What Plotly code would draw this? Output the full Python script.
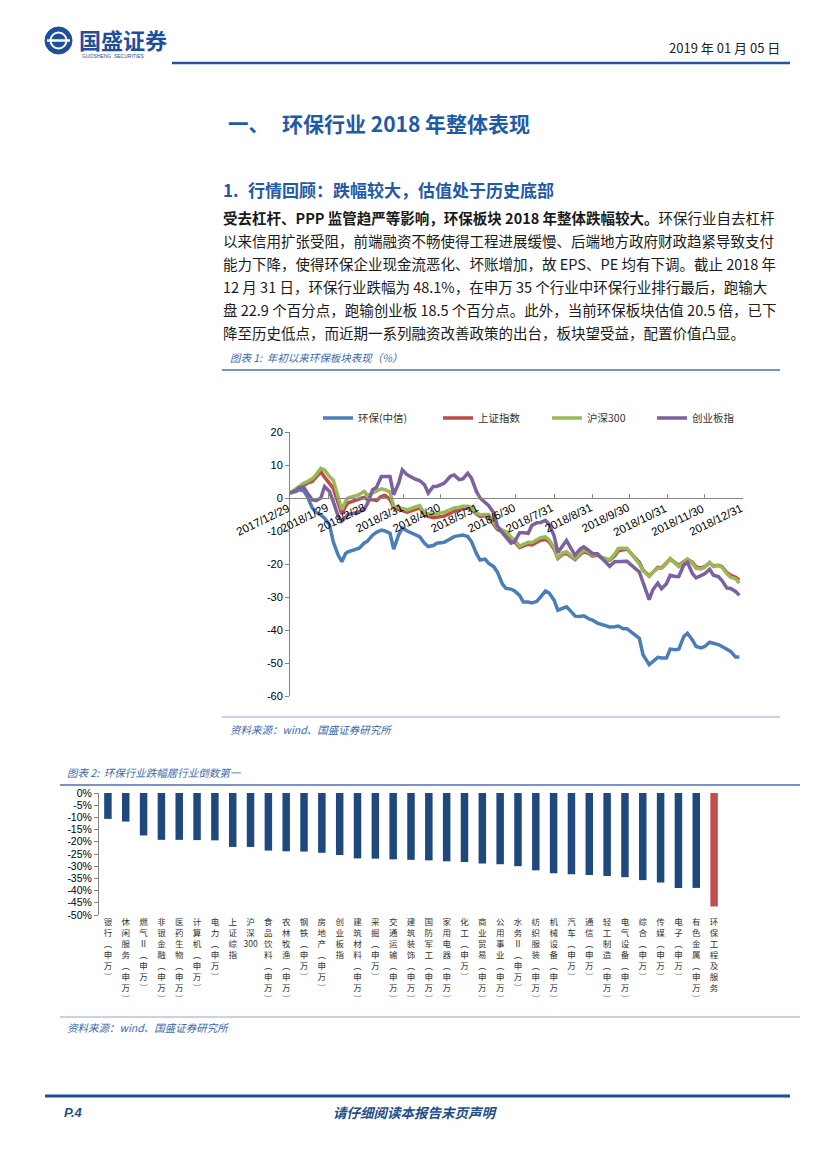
import plotly.graph_objects as go

# The page body adds an 8px margin, so the figure is sized to the remaining area and
# every page position below is converted from page pixels to figure fractions.
OFF = 8
W, H = 827 - OFF, 1169 - OFF


def fx(px):
    return (px - OFF) / W


def fy(py):
    return 1 - (py - OFF) / H


# ---------------- Chart 1 data: 年初以来环保板块表现（%） ----------------
dates = [
    "2017-12-29", "2018-01-03", "2018-01-05", "2018-01-09", "2018-01-12", "2018-01-16", "2018-01-19",
    "2018-01-23", "2018-01-26", "2018-01-30", "2018-02-02", "2018-02-06", "2018-02-09", "2018-02-12",
    "2018-02-14", "2018-02-23", "2018-02-27", "2018-03-02", "2018-03-06", "2018-03-09", "2018-03-13",
    "2018-03-16", "2018-03-20", "2018-03-23", "2018-03-27", "2018-03-30", "2018-04-03", "2018-04-09",
    "2018-04-13", "2018-04-17", "2018-04-20", "2018-04-24", "2018-04-27", "2018-05-03", "2018-05-08",
    "2018-05-11", "2018-05-15", "2018-05-18", "2018-05-22", "2018-05-25", "2018-05-29", "2018-06-01",
    "2018-06-05", "2018-06-08", "2018-06-12", "2018-06-15", "2018-06-19", "2018-06-22", "2018-06-26",
    "2018-06-29", "2018-07-03", "2018-07-06", "2018-07-10", "2018-07-13", "2018-07-17", "2018-07-20",
    "2018-07-24", "2018-07-27", "2018-07-31", "2018-08-03", "2018-08-07", "2018-08-10", "2018-08-14",
    "2018-08-17", "2018-08-21", "2018-08-24", "2018-08-28", "2018-08-31", "2018-09-04", "2018-09-07",
    "2018-09-11", "2018-09-14", "2018-09-18", "2018-09-21", "2018-09-25", "2018-09-28", "2018-10-08",
    "2018-10-11", "2018-10-16", "2018-10-19", "2018-10-23", "2018-10-26", "2018-10-30", "2018-11-02",
    "2018-11-06", "2018-11-09", "2018-11-13", "2018-11-16", "2018-11-20", "2018-11-23", "2018-11-27",
    "2018-11-30", "2018-12-04", "2018-12-07", "2018-12-11", "2018-12-14", "2018-12-18", "2018-12-21",
    "2018-12-25", "2018-12-28",
]

huanbao = [
    1.5, 2.0, 2.5, 2.2, 0.5, -3.0, -4.3, -5.1, -6.1, -8.1,
    -13.2, -17.3, -19.3, -16.8, -16.3, -15.2, -13.7, -13.0, -11.2, -10.4,
    -9.7, -10.0, -10.7, -15.5, -11.2, -9.1, -10.0, -11.2, -11.7, -13.7,
    -14.7, -14.4, -13.7, -13.4, -12.2, -11.7, -11.4, -11.2, -11.7, -13.2,
    -16.8, -18.8, -18.5, -19.8, -20.8, -22.4, -26.0, -27.4, -27.6, -28.2,
    -29.5, -31.5, -31.5, -31.8, -31.3, -30.0, -28.2, -28.8, -31.0, -34.0,
    -33.5, -33.0, -34.5, -35.8, -35.9, -35.7, -36.6, -37.0, -37.9, -38.3,
    -38.8, -39.1, -39.0, -38.8, -39.6, -39.6, -42.5, -47.5, -50.5, -49.5,
    -48.3, -48.5, -48.5, -45.8, -46.0, -45.8, -42.0, -41.0, -43.0, -45.0,
    -45.4, -45.0, -43.7, -44.0, -44.4, -45.0, -46.0, -46.5, -48.2, -48.2,
]

shangzheng = [
    1.5, 2.5, 3.0, 4.0, 4.5, 5.0, 6.3, 8.0, 6.3, 4.6,
    3.0, -1.5, -4.8, -2.5, -1.5, -0.3, 0.2, -0.5, -0.5, -0.8,
    0.5, 0.8, -0.4, -3.0, -3.5, -4.0, -4.3, -3.5, -3.0, -5.0,
    -5.6, -6.0, -5.8, -5.5, -4.6, -4.0, -3.6, -3.3, -3.0, -3.2,
    -4.8, -5.6, -5.3, -5.8, -7.8, -9.5, -10.2, -10.8, -12.3, -13.3,
    -15.0, -14.5, -14.0, -14.2, -13.5, -12.8, -12.6, -13.3, -15.5, -18.3,
    -17.0, -16.8, -17.8, -18.6, -17.2, -16.3, -16.8, -17.6, -17.3, -18.0,
    -18.6, -18.9, -17.6, -16.0, -15.7, -15.5, -19.5, -21.8, -23.6, -22.4,
    -21.0, -21.2, -19.8, -18.5, -19.6, -20.4, -19.3, -18.6, -19.5, -20.9,
    -21.2, -20.8, -19.6, -20.6, -20.4, -20.8, -22.6, -23.4, -24.0, -24.8,
]

hs300 = [
    1.5, 3.0, 3.5, 4.5, 5.0, 5.8, 7.0, 9.0, 8.5, 6.5,
    5.5, 0.0, -3.5, -1.0, 0.0, 1.0, 2.0, 0.8, 1.5, 2.0,
    2.8, 2.5, 1.8, -2.5, -2.7, -3.2, -3.6, -2.8, -2.3, -4.6,
    -4.8, -5.0, -4.8, -4.3, -3.5, -3.0, -2.8, -2.5, -2.5, -2.8,
    -4.5, -5.1, -5.0, -5.0, -7.3, -9.0, -9.7, -10.2, -11.8, -12.8,
    -14.6, -14.0, -13.4, -13.5, -12.7, -12.0, -11.8, -12.7, -15.0, -18.0,
    -16.6, -16.3, -17.5, -18.3, -16.8, -15.8, -16.4, -17.3, -17.0, -17.9,
    -18.4, -18.7, -17.0, -15.3, -15.2, -15.2, -20.0, -22.0, -23.8, -22.5,
    -21.3, -21.3, -19.8, -18.3, -19.8, -20.8, -19.5, -18.5, -19.8, -21.3,
    -21.5, -21.0, -19.5, -20.8, -20.5, -21.0, -23.0, -24.0, -24.5, -25.8,
]

chuangye = [
    1.5, 2.3, 3.0, 3.4, 1.5, -0.5, -0.8, 0.0, 3.5, 2.0,
    -1.0, -5.5, -7.0, -5.8, -5.0, -4.2, -3.5, -1.5, 2.5, 3.2,
    6.5, 6.5, 6.5, 1.0, 4.5, 8.5, 7.0, 5.8, 5.3, 4.0,
    1.5, 3.5, 3.5, 4.5, 6.6, 7.0, 5.6, 5.8, 7.5, 6.0,
    2.0, 0.0, -1.5, -2.3, -4.5, -8.5, -10.5, -12.0, -13.7, -13.2,
    -10.5, -10.5, -10.7, -8.3, -7.5, -7.4, -6.8, -8.0, -11.5, -16.5,
    -14.5, -12.9, -15.5, -17.3, -15.5, -14.8, -15.9, -16.8, -16.9, -18.0,
    -19.6, -20.7, -19.3, -19.3, -19.1, -19.2, -22.4, -25.5, -30.8, -27.8,
    -25.8, -27.5, -26.0, -23.4, -23.8, -23.8, -20.3, -19.5, -22.9, -24.2,
    -23.5, -23.0, -21.6, -23.4, -23.8, -25.0, -27.3, -27.4, -28.3, -29.5,
]

series_names = ["环保(中信)", "上证指数", "沪深300", "创业板指"]
series_values = [huanbao, shangzheng, hs300, chuangye]
series_colors = ["#4A7EBB", "#BE4B48", "#98B954", "#7D60A0"]

month_tick_dates = [
    "2017-12-29", "2018-01-29", "2018-02-28", "2018-03-31", "2018-04-30", "2018-05-31", "2018-06-30",
    "2018-07-31", "2018-08-31", "2018-09-30", "2018-10-31", "2018-11-30", "2018-12-31",
]
month_tick_labels = [
    "2017/12/29", "2018/1/29", "2018/2/28", "2018/3/31", "2018/4/30", "2018/5/31", "2018/6/30",
    "2018/7/31", "2018/8/31", "2018/9/30", "2018/10/31", "2018/11/30", "2018/12/31",
]
y1_tickvals = [20, 10, 0, -10, -20, -30, -40, -50, -60]
y1_ticktext = [str(v) for v in y1_tickvals]

# ---------------- Chart 2 data: 环保行业跌幅居行业倒数第一 ----------------
industries = [
    "银行(申万)", "休闲服务(申万)", "燃气Ⅱ(申万)", "非银金融(申万)", "医药生物(申万)", "计算机(申万)",
    "电力(申万)", "上证综指", "沪深300", "食品饮料(申万)", "农林牧渔(申万)", "钢铁(申万)",
    "房地产(申万)", "创业板指", "建筑材料(申万)", "采掘(申万)", "交通运输(申万)", "建筑装饰(申万)",
    "国防军工(申万)", "家用电器(申万)", "化工(申万)", "商业贸易(申万)", "公用事业(申万)", "水务Ⅱ(申万)",
    "纺织服装(申万)", "机械设备(申万)", "汽车(申万)", "通信(申万)", "轻工制造(申万)", "电气设备(申万)",
    "综合(申万)", "传媒(申万)", "电子(申万)", "有色金属(申万)", "环保工程及服务",
]
declines = [
    -10.6, -11.7, -17.4, -19.2, -19.2, -19.3,
    -19.4, -22.1, -22.1, -23.6, -23.9, -24.0,
    -24.5, -25.4, -26.8, -26.9, -27.2, -27.4,
    -27.6, -28.0, -28.3, -28.9, -29.2, -30.0,
    -31.7, -32.9, -33.3, -33.6, -34.0, -34.5,
    -35.7, -36.7, -38.9, -38.9, -46.5,
]
highlight = "环保工程及服务"
y2_tickvals = [0, -5, -10, -15, -20, -25, -30, -35, -40, -45, -50]
y2_ticktext = [f"{v}%" for v in y2_tickvals]


def vertical(label):
    tokens = []
    i = 0
    while i < len(label):
        ch = label[i]
        if ch.isdigit():
            j = i
            while j < len(label) and label[j].isdigit():
                j += 1
            tokens.append(label[i:j])
            i = j
        else:
            tokens.append({"(": "︵", ")": "︶"}.get(ch, ch))
            i += 1
    return "<br>".join(tokens)


CJK = "Noto Sans CJK SC"
BLUE = "#1F5AA6"
CAP_BLUE = "#3A68AE"
GRAY_AX = "#868686"

fig = go.Figure()

legend_names = ["legend", "legend2", "legend3", "legend4"]
for name, vals, col, lg in zip(series_names, series_values, series_colors, legend_names):
    fig.add_trace(go.Scatter(
        x=dates, y=vals, name=name, mode="lines",
        line=dict(color=col, width=3.5), xaxis="x", yaxis="y", legend=lg,
        hoverinfo="skip",
    ))

bar_colors = ["#C0504D" if c == highlight else "#1F497D" for c in industries]
fig.add_trace(go.Bar(
    x=industries, y=declines, marker=dict(color=bar_colors, line=dict(width=0)),
    xaxis="x2", yaxis="y2", showlegend=False, hoverinfo="skip",
))

# geometry (page-pixel positions of plot areas)
c1_x = [fx(290), fx(743)]
c1_y = [fy(696), fy(432)]
zero_pos = c1_y[0] + (0 - (-60)) / 80 * (c1_y[1] - c1_y[0])
c2_x = [fx(99), fx(723)]
c2_y = [fy(915), fy(793)]

legend_font = dict(family=CJK, size=10.5, color="#333333")
legend_common = dict(orientation="h", yanchor="middle", xanchor="left", y=fy(418),
                     font=legend_font, bgcolor="rgba(0,0,0,0)", borderwidth=0)

fig.update_layout(
    template="none",
    width=W, height=H, autosize=False,
    margin=dict(l=0, r=0, t=0, b=0, pad=0, autoexpand=False),
    paper_bgcolor="white", plot_bgcolor="rgba(0,0,0,0)",
    bargap=0.58,
    legend=dict(x=fx(318), **legend_common),
    legend2=dict(x=fx(438), **legend_common),
    legend3=dict(x=fx(547), **legend_common),
    legend4=dict(x=fx(652), **legend_common),
    xaxis=dict(
        domain=c1_x, anchor="free", position=zero_pos, type="date", automargin=False,
        range=["2017-12-29", "2018-12-31"],
        tickvals=month_tick_dates, showticklabels=False,
        ticks="inside", ticklen=4, tickcolor=GRAY_AX,
        showline=True, linecolor=GRAY_AX, linewidth=1,
        showgrid=False, zeroline=False,
    ),
    yaxis=dict(
        domain=c1_y, anchor="x", range=[-60, 20], automargin=False,
        tickvals=y1_tickvals, ticktext=y1_ticktext,
        ticks="outside", ticklen=4, tickcolor=GRAY_AX,
        showline=True, linecolor=GRAY_AX, linewidth=1,
        showgrid=False, zeroline=False,
        tickfont=dict(family="Liberation Sans", size=11, color="#000000"),
    ),
    xaxis2=dict(
        domain=c2_x, anchor="y2", type="category", automargin=False,
        tickvals=industries, ticktext=[vertical(c) for c in industries],
        tickangle=0, ticks="", showline=False, showgrid=False, zeroline=False,
        tickfont=dict(family=CJK, size=8.5, color="#333333"),
    ),
    xaxis3=dict(
        overlaying="x2", anchor="y2", side="top", range=[-0.5, len(industries) - 0.5],
        automargin=False,
        tickvals=[i - 0.5 for i in range(len(industries) + 1)],
        ticks="inside", ticklen=4, tickcolor=GRAY_AX, showticklabels=False,
        showline=True, linecolor=GRAY_AX, linewidth=1, showgrid=False, zeroline=False,
    ),
    yaxis2=dict(
        domain=c2_y, anchor="x2", range=[-50, 0], automargin=False,
        tickvals=y2_tickvals, ticktext=y2_ticktext,
        ticks="outside", ticklen=4, tickcolor=GRAY_AX,
        showline=True, linecolor=GRAY_AX, linewidth=1,
        showgrid=False, zeroline=False,
        tickfont=dict(family="Liberation Sans", size=10.5, color="#000000"),
    ),
)

shapes = []


def hline(x0, x1, y, color, width):
    shapes.append(dict(type="line", xref="paper", yref="paper", x0=fx(x0), x1=fx(x1),
                       y0=fy(y), y1=fy(y), line=dict(color=color, width=width)))


hline(172, 790, 63, "#2A5597", 2.5)      # header rule
hline(222, 780, 370, "#4A72B0", 1.3)     # under caption 1
hline(222, 780, 717, "#8EA6CC", 1)       # above source 1
hline(60, 800, 785, "#4A72B0", 1.3)      # under caption 2
hline(60, 800, 1017, "#8EA6CC", 1)       # above source 2
hline(45, 790, 1096, "#1F4E8C", 3)       # footer rule

# logo mark
shapes.append(dict(type="circle", xref="paper", yref="paper",
                   x0=fx(45), x1=fx(72), y0=fy(54), y1=fy(27),
                   fillcolor="#1E4F9C", line=dict(color="#1E4F9C", width=1)))
shapes.append(dict(type="circle", xref="paper", yref="paper",
                   x0=fx(50.5), x1=fx(66.5), y0=fy(48.5), y1=fy(32.5),
                   fillcolor="rgba(0,0,0,0)", line=dict(color="white", width=2)))
shapes.append(dict(type="line", xref="paper", yref="paper",
                   x0=fx(47), x1=fx(70), y0=fy(40.5), y1=fy(40.5),
                   line=dict(color="white", width=2.5)))
fig.update_layout(shapes=shapes)

ann = []


def text(x, y, s, size, color="#222222", anchor="left", family=CJK):
    ann.append(dict(x=fx(x), y=fy(y), xref="paper", yref="paper", text=s, showarrow=False,
                    xanchor=anchor, yanchor="middle", align=anchor,
                    font=dict(family=family, size=size, color=color)))


# rotated month labels of chart 1, hung under the zero line at each tick date
for d, lab in zip(month_tick_dates, month_tick_labels):
    ann.append(dict(x=d, xref="x", y=zero_pos, yref="paper", text=lab, showarrow=False,
                    textangle=-26, xanchor="right", yanchor="top", xshift=4, yshift=-1,
                    font=dict(family="Liberation Sans", size=11.5, color="#000000")))

text(77, 39, "<b>国盛证券</b>", 22, "#1E4F9C")
text(80, 56, "GUOSHENG  SECURITIES", 5, "#1E4F9C", family="Liberation Sans")
text(782, 47, "2019 年 01 月 05 日", 13, "#222222", anchor="right")

text(226, 123, "<b>一、</b>", 20.5, BLUE)
text(280, 123, "<b>环保行业 2018 年整体表现</b>", 21, BLUE)
text(221, 190, "<b>1.</b>", 17, BLUE)
text(246, 190, "<b>行情回顾：跌幅较大，估值处于历史底部</b>", 17, BLUE)

para = [
    "<b>受去杠杆、PPP 监管趋严等影响，环保板块 2018 年整体跌幅较大。</b>环保行业自去杠杆",
    "以来信用扩张受阻，前端融资不畅使得工程进展缓慢、后端地方政府财政趋紧导致支付",
    "能力下降，使得环保企业现金流恶化、坏账增加，故 EPS、PE 均有下调。截止 2018 年",
    "12 月 31 日，环保行业跌幅为 48.1%，在申万 35 个行业中环保行业排行最后，跑输大",
    "盘 22.9 个百分点，跑输创业板 18.5 个百分点。此外，当前环保板块估值 20.5 倍，已下",
    "降至历史低点，而近期一系列融资改善政策的出台，板块望受益，配置价值凸显。",
]
for i, line in enumerate(para):
    text(221, 218 + i * 22.8, line, 14.5, "#1a1a1a")

text(228, 358, "<i>图表 1:  年初以来环保板块表现（%）</i>", 10.5, CAP_BLUE)
text(228, 729, "<i>资料来源：wind、国盛证券研究所</i>", 10.5, CAP_BLUE)
text(65, 773, "<i>图表 2:  环保行业跌幅居行业倒数第一</i>", 10.5, CAP_BLUE)
text(65, 1027, "<i>资料来源：wind、国盛证券研究所</i>", 10.5, CAP_BLUE)

text(62, 1112, "<b><i>P.4</i></b>", 13, "#1F4E8C", family="Liberation Sans")
text(415, 1112, "<b><i>请仔细阅读本报告末页声明</i></b>", 13.5, "#1F4E8C", anchor="center")

fig.update_layout(annotations=ann)

fig.write_html("out.html")
